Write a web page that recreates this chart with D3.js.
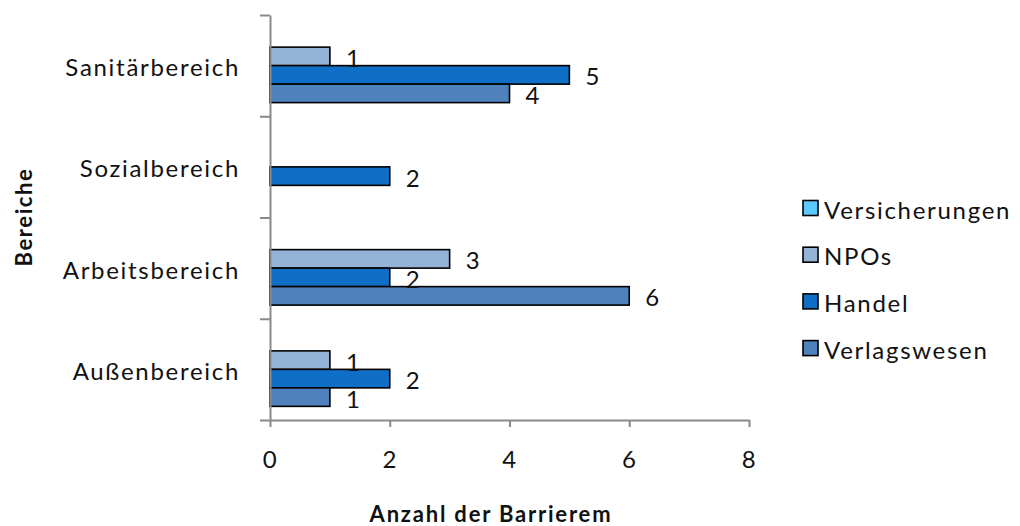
<!DOCTYPE html>
<html>
<head>
<meta charset="utf-8">
<script src="https://cdn.jsdelivr.net/npm/d3@7"></script>
<style>
  html, body { margin: 0; padding: 0; background: #fff; }
  svg { display: block; }
  text { font-family: Lato, "DejaVu Sans", sans-serif; fill: #111; }
</style>
</head>
<body>
<svg id="chart" width="1020" height="526"></svg>
<script>
// Categories, listed top to bottom as drawn
const categories = ["Sanitärbereich", "Sozialbereich", "Arbeitsbereich", "Außenbereich"];
// Series, listed in the order they stack inside each group (top to bottom)
const seriesNames = ["Versicherungen", "NPOs", "Handel", "Verlagswesen"];
const seriesColors = ["#5bc8ff", "#95b3d7", "#0f6fc6", "#4f81bd"];
// Values per series, aligned with categories
const versicherungen = [0, 0, 0, 0];
const npos           = [1, 0, 3, 1];
const handel         = [5, 2, 2, 2];
const verlagswesen   = [4, 0, 6, 1];
const xTicks = [0, 2, 4, 6, 8];

const seriesValues = [versicherungen, npos, handel, verlagswesen];

const svg = d3.select("#chart");
const plot = { left: 270, right: 749, top: 15, bottom: 420 };

const x = d3.scaleLinear().domain([0, 8]).range([plot.left, plot.right]);
const y = d3.scaleBand().domain(categories).range([plot.top, plot.bottom]).padding(0);
const ySub = d3.scaleBand().domain(seriesNames).range([0, y.bandwidth()])
  .paddingInner(0).paddingOuter(0.737);

const axisColor = "#8a8a8a";
const letter = "1.7px";

// Bars
const rows = [];
categories.forEach((c, ci) => {
  seriesNames.forEach((s, si) => {
    rows.push({ cat: c, series: s, color: seriesColors[si], value: seriesValues[si][ci] });
  });
});
const drawn = rows.filter(d => d.value > 0);

svg.append("g").selectAll("rect").data(drawn).join("rect")
  .attr("x", x(0))
  .attr("y", d => y(d.cat) + ySub(d.series))
  .attr("width", d => x(d.value) - x(0))
  .attr("height", ySub.bandwidth())
  .attr("fill", d => d.color)
  .attr("stroke", "#000")
  .attr("stroke-width", 1.6);

// Value labels
svg.append("g").selectAll("text").data(drawn).join("text")
  .attr("x", d => x(d.value) + 16)
  .attr("y", d => y(d.cat) + ySub(d.series) + ySub.bandwidth() / 2 + 1)
  .attr("dominant-baseline", "central")
  .attr("font-size", 24)
  .style("letter-spacing", letter)
  .text(d => d.value);

// X axis
const xAxis = svg.append("g")
  .attr("transform", `translate(0,${plot.bottom})`)
  .call(d3.axisBottom(x).tickValues(xTicks).tickSize(7).tickSizeOuter(0).tickPadding(24));
xAxis.select(".domain").attr("stroke", axisColor).attr("stroke-width", 2);
xAxis.selectAll(".tick line").attr("stroke", axisColor).attr("stroke-width", 2);
xAxis.selectAll(".tick text")
  .attr("font-size", 24).attr("font-family", null).attr("fill", "#111")
  .style("letter-spacing", letter);

// Y axis: ticks on the band boundaries, labels at band centres
const edges = d3.scaleLinear().domain([0, categories.length]).range([plot.bottom, plot.top]);
const yAxis = svg.append("g")
  .attr("transform", `translate(${plot.left},0)`)
  .call(d3.axisLeft(edges).ticks(categories.length).tickSize(10).tickSizeOuter(0).tickFormat(""));
yAxis.select(".domain").attr("stroke", axisColor).attr("stroke-width", 2);
yAxis.selectAll(".tick line").attr("stroke", axisColor).attr("stroke-width", 2);

svg.append("g").selectAll("text").data(categories).join("text")
  .attr("x", 240)
  .attr("y", d => y(d) + y.bandwidth() / 2 + 1)
  .attr("text-anchor", "end")
  .attr("dominant-baseline", "central")
  .attr("font-size", 24)
  .style("letter-spacing", letter)
  .text(d => d);

// Axis titles
svg.append("text")
  .attr("x", 491).attr("y", 513)
  .attr("text-anchor", "middle")
  .attr("dominant-baseline", "central")
  .attr("font-size", 22).attr("font-weight", "bold")
  .style("letter-spacing", "1.8px")
  .text("Anzahl der Barrierem");

svg.append("text")
  .attr("transform", "translate(23,217) rotate(-90)")
  .attr("text-anchor", "middle")
  .attr("dominant-baseline", "central")
  .attr("font-size", 22).attr("font-weight", "bold")
  .style("letter-spacing", "1.6px")
  .text("Bereiche");

// Legend
const legend = svg.append("g").selectAll("g").data(seriesNames).join("g")
  .attr("transform", (d, i) => `translate(803,${208 + i * 46.7})`);
legend.append("rect")
  .attr("x", 0).attr("y", -7.5).attr("width", 15).attr("height", 15)
  .attr("fill", (d, i) => seriesColors[i])
  .attr("stroke", "#000").attr("stroke-width", 1.6);
legend.append("text")
  .attr("x", 21).attr("y", 1)
  .attr("dominant-baseline", "central")
  .attr("font-size", 24)
  .style("letter-spacing", letter)
  .text(d => d);
</script>
</body>
</html>
